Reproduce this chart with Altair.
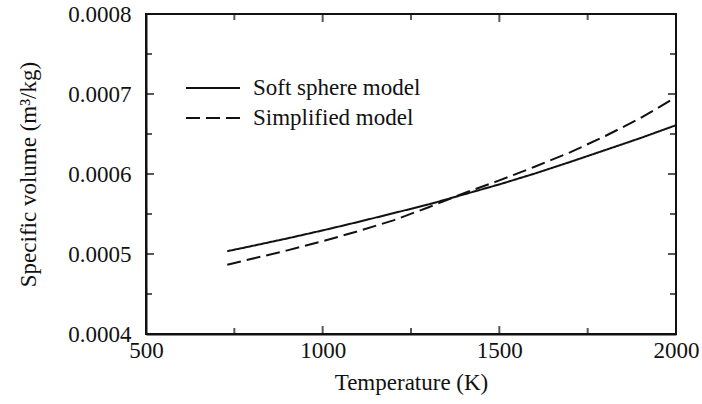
import altair as alt
import pandas as pd

# ---- data ----
temps = [730, 800, 900, 1000, 1100, 1200, 1300, 1400, 1500, 1600, 1700, 1800, 1900, 2000]
soft_sphere = [0.0005035, 0.000510, 0.0005195, 0.0005295, 0.000540, 0.000551, 0.000562,
               0.0005745, 0.000587, 0.0006005, 0.000615, 0.000630, 0.000645, 0.000661]
simplified = [0.0004865, 0.000494, 0.0005045, 0.000516, 0.0005285, 0.000542, 0.0005585,
              0.000576, 0.000592, 0.000609, 0.000627, 0.0006475, 0.000670, 0.000696]
series_names = ["Soft sphere model", "Simplified model"]

x_major = [500, 1000, 1500, 2000]
x_minor = [750, 1250, 1750]
y_major = [0.0004, 0.0005, 0.0006, 0.0007, 0.0008]
y_minor = [0.00045, 0.00055, 0.00065, 0.00075]

W, H = 530, 320
FONT = "Liberation Serif"
INK = "#111111"

rows = []
for t, a, b in zip(temps, soft_sphere, simplified):
    rows.append({"T": t, "v": a, "series": series_names[0]})
    rows.append({"T": t, "v": b, "series": series_names[1]})
df = pd.DataFrame(rows)

xscale = alt.Scale(domain=[500, 2000], nice=False, zero=False)
yscale = alt.Scale(domain=[0.0004, 0.0008], nice=False, zero=False)

x_axis = alt.Axis(values=x_major, format="d", ticks=False, tickSize=0, grid=False,
                  labelPadding=5, titlePadding=9, labelFlush=False, labelOverlap=False)
y_axis = alt.Axis(values=y_major, format=".4f", ticks=False, tickSize=0, grid=False,
                  labelPadding=15, titlePadding=27, labelFlush=False, labelOverlap=False)

lines = alt.Chart(df).mark_line(strokeWidth=2).encode(
    x=alt.X("T:Q", scale=xscale, title="Temperature (K)", axis=x_axis),
    y=alt.Y("v:Q", scale=yscale, title="Specific volume (m³/kg)", axis=y_axis),
    color=alt.Color("series:N", scale=alt.Scale(domain=series_names, range=[INK, INK]), legend=None),
    strokeDash=alt.StrokeDash("series:N", scale=alt.Scale(domain=series_names, range=[[1, 0], [14, 6]]),
                              legend=None),
)

def xticks(vals, size, top):
    d = pd.DataFrame({"T": vals})
    off = size / 2 if top else -size / 2
    return alt.Chart(d).mark_tick(orient="vertical", size=size, thickness=2, color=INK, yOffset=off).encode(
        x=alt.X("T:Q", scale=xscale, title="Temperature (K)", axis=x_axis),
        y=alt.Y(datum=0.0008 if top else 0.0004, scale=yscale, title="Specific volume (m³/kg)", axis=y_axis),
    )

def yticks(vals, size, right):
    d = pd.DataFrame({"v": vals})
    off = -size / 2 if right else size / 2
    return alt.Chart(d).mark_tick(orient="horizontal", size=size, thickness=2, color=INK, xOffset=off).encode(
        y=alt.Y("v:Q", scale=yscale, title="Specific volume (m³/kg)", axis=y_axis),
        x=alt.X(datum=2000 if right else 500, scale=xscale, title="Temperature (K)", axis=x_axis),
    )

tick_layers = [
    xticks(x_major, 8, False), xticks(x_minor, 6, False),
    xticks(x_major, 8, True), xticks(x_minor, 6, True),
    yticks(y_major, 8, False), yticks(y_minor, 6, False),
    yticks(y_major, 8, True), yticks(y_minor, 6, True),
]

# legend drawn inside the plot
leg_df = pd.DataFrame({"label": series_names})
leg1_line = alt.Chart(leg_df.iloc[[0]]).mark_rule(color=INK, strokeWidth=2).encode(
    x=alt.value(40), x2=alt.value(94), y=alt.value(74))
leg2_line = alt.Chart(leg_df.iloc[[1]]).mark_rule(color=INK, strokeWidth=2, strokeDash=[14, 6]).encode(
    x=alt.value(40), x2=alt.value(94), y=alt.value(104))
leg1_text = alt.Chart(leg_df.iloc[[0]]).mark_text(align="left", baseline="middle", font=FONT,
                                                  fontSize=23, color=INK).encode(
    x=alt.value(107), y=alt.value(74), text="label:N")
leg2_text = alt.Chart(leg_df.iloc[[1]]).mark_text(align="left", baseline="middle", font=FONT,
                                                  fontSize=23, color=INK).encode(
    x=alt.value(107), y=alt.value(104), text="label:N")

chart = alt.layer(lines, *tick_layers, leg1_line, leg2_line, leg1_text, leg2_text).properties(
    width=W, height=H,
    background="white",
    autosize=alt.AutoSizeParams(type="none"),
    padding={"left": 146, "top": 14, "right": 26, "bottom": 70},
).configure_view(
    stroke=INK, strokeWidth=2
).configure_axis(
    domainColor=INK, domainWidth=2, labelFont=FONT, titleFont=FONT,
    labelFontSize=23, titleFontSize=23, labelColor=INK, titleColor=INK,
    titleFontWeight="normal",
)

chart.save("out.html", embed_options={"renderer": "svg", "actions": False})
